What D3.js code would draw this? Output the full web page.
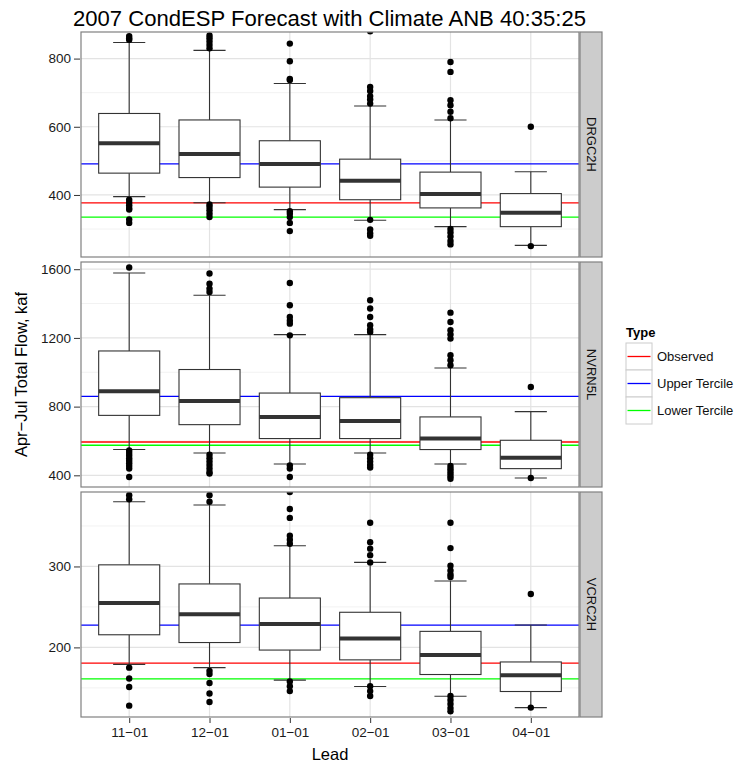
<!DOCTYPE html>
<html><head><meta charset="utf-8">
<script src="https://cdn.jsdelivr.net/npm/d3@7"></script>
<style>body{margin:0;background:#fff;} svg{display:block;font-family:"Liberation Sans",Arial,sans-serif;}</style>
</head><body><svg id="c" width="748" height="764"></svg>
<script>
const leads = ["11\u221201","12\u221201","01\u221201","02\u221201","03\u221201","04\u221201"];
const stations = ["DRGC2H","NVRN5L","VCRC2H"];

// [lower whisker, Q1, median, Q3, upper whisker] per lead
const drgcStats = [[395,464,552,639,847],[377,451,520,620,824],[357,423,491,559,727],[326,386,442,505,661],[307,362,403,467,620],[252,307,348,404,468]];
const nvrnStats = [[550,749,889,1124,1578],[530,695,833,1016,1448],[466,614,740,879,1219],[530,614,716,852,1219],[466,550,614,740,1025],[384,439,503,604,771]];
const vcrcStats = [[179,215.6,255,302,380],[175,206,241,278.4,376],[159.5,196.7,229,261,325.5],[151.7,184.6,211,243.4,305],[139.6,166.5,190.5,219.8,282],[125.6,145.5,165.7,182,227.6]];

const drgcOutliers = [[855,860,866,386,378,370,362,357,328,318],[830,840,850,860,868,372,365,355,345,335],[844,792,740,737,352,345,335,318,294],[880,717,705,690,680,668,327,299,288,280],[790,761,678,663,644,625,300,290,278,265,255],[600,250]];
const nvrnOutliers = [[1610,545,530,515,500,485,470,455,440,390],[1575,1516,1487,1467,520,500,480,460,440,420,410],[1520,1390,1322,1300,1283,1215,458,440,390],[1660,1419,1371,1322,1274,1250,1235,520,500,480,460,445],[1347,1293,1245,1220,1196,1099,1070,1041,455,440,425,410,395,380],[914,384]];
const vcrcOutliers = [[395,388,383,175,161.6,151,128],[395,388,380,171,167,156,143,132.6],[392,371,360,338,333,328,158,152,146],[354,330,322,314,305,152,146,140],[354,322.7,301,295,290,287,140,135,130,125,121],[266,125.6]];

const observed = [377, 594, 180.5];
const upperTercile = [491, 860, 227.6];
const lowerTercile = [335, 575, 161];

const yDomains = [[218,878],[332,1642],[114,392]];
const majorTicks = [[400,600,800],[400,800,1200,1600],[200,300]];
const minorTicks = [[300,500,700],[600,1000,1400],[150,250,350]];

const typeNames = ["Observed","Upper Tercile","Lower Tercile"];
const typeColors = ["#ff0000","#0000ff","#00ff00"];

const statsAll = [drgcStats, nvrnStats, vcrcStats];
const outAll = [drgcOutliers, nvrnOutliers, vcrcOutliers];
const linesAll = [observed, upperTercile, lowerTercile];

const svg = d3.select("#c");
const L = 81, R = 579, stripW = 23;
const tops = [32, 262, 492], PH = 225;

const x = d3.scalePoint().domain(leads).range([L, R]).padding(0.6);
const step = x.step();
const boxW = step * 0.76, capW = step * 0.4;

// title
svg.append("text").attr("x", 73).attr("y", 26).attr("text-anchor","start")
  .attr("font-size", 22).attr("textLength", 513).attr("lengthAdjust","spacingAndGlyphs")
  .attr("fill","#000").text("2007 CondESP Forecast with Climate ANB 40:35:25");

const defs = svg.append("defs");

stations.forEach((st, i) => {
  const top = tops[i], bot = top + PH;
  const y = d3.scaleLinear().domain(yDomains[i]).range([bot, top]);
  const g = svg.append("g");
  defs.append("clipPath").attr("id","clip"+i).append("rect")
    .attr("x", L).attr("y", top).attr("width", R-L).attr("height", PH);
  g.append("rect").attr("x",L).attr("y",top).attr("width",R-L).attr("height",PH).attr("fill","#fff");
  g.selectAll(".mn").data(minorTicks[i]).join("line")
    .attr("x1",L).attr("x2",R).attr("y1",d=>y(d)).attr("y2",d=>y(d))
    .attr("stroke","#f2f2f2").attr("stroke-width",1);
  g.selectAll(".mj").data(majorTicks[i]).join("line")
    .attr("x1",L).attr("x2",R).attr("y1",d=>y(d)).attr("y2",d=>y(d))
    .attr("stroke","#e3e3e3").attr("stroke-width",1.2);
  g.selectAll(".vx").data(leads).join("line")
    .attr("x1",d=>x(d)).attr("x2",d=>x(d)).attr("y1",top).attr("y2",bot)
    .attr("stroke","#e3e3e3").attr("stroke-width",1.2);

  const pg = g.append("g").attr("clip-path","url(#clip"+i+")");
  linesAll.forEach((arr, k) => {
    pg.append("line").attr("x1",L).attr("x2",R).attr("y1",y(arr[i])).attr("y2",y(arr[i]))
      .attr("stroke", typeColors[k]).attr("stroke-width",1.3);
  });
  const stats = statsAll[i];
  leads.forEach((ld, j) => {
    const s = stats[j], cx = x(ld);
    const bg = pg.append("g");
    bg.append("line").attr("x1",cx).attr("x2",cx).attr("y1",y(s[4])).attr("y2",y(s[3])).attr("stroke","#333").attr("stroke-width",1.1);
    bg.append("line").attr("x1",cx).attr("x2",cx).attr("y1",y(s[1])).attr("y2",y(s[0])).attr("stroke","#333").attr("stroke-width",1.1);
    bg.append("line").attr("x1",cx-capW/2).attr("x2",cx+capW/2).attr("y1",y(s[4])).attr("y2",y(s[4])).attr("stroke","#333").attr("stroke-width",1.1);
    bg.append("line").attr("x1",cx-capW/2).attr("x2",cx+capW/2).attr("y1",y(s[0])).attr("y2",y(s[0])).attr("stroke","#333").attr("stroke-width",1.1);
    bg.append("rect").attr("x",cx-boxW/2).attr("y",y(s[3])).attr("width",boxW).attr("height",y(s[1])-y(s[3]))
      .attr("fill","#fff").attr("stroke","#333").attr("stroke-width",1.1);
    bg.append("line").attr("x1",cx-boxW/2).attr("x2",cx+boxW/2).attr("y1",y(s[2])).attr("y2",y(s[2])).attr("stroke","#333").attr("stroke-width",4);
    bg.selectAll("circle").data(outAll[i][j]).join("circle")
      .attr("cx",cx).attr("cy",d=>y(d)).attr("r",3.2).attr("fill","#000");
  });
  g.append("rect").attr("x",L).attr("y",top).attr("width",R-L).attr("height",PH)
    .attr("fill","none").attr("stroke","#808080").attr("stroke-width",1.2);
  g.append("rect").attr("x",R+1).attr("y",top).attr("width",stripW-1).attr("height",PH)
    .attr("fill","#cccccc").attr("stroke","#808080").attr("stroke-width",1.2);
  g.append("text").attr("transform",`translate(${R+stripW/2-4},${top+PH/2}) rotate(90)`)
    .attr("text-anchor","middle").attr("font-size",13).attr("fill","#111").text(st);
  const ya = d3.axisLeft(y).tickValues(majorTicks[i]).tickFormat(d3.format("d")).tickSize(6).tickPadding(3);
  const ag = g.append("g").attr("transform",`translate(${L-1},0)`).call(ya);
  ag.select(".domain").remove();
  ag.selectAll("line").attr("stroke","#333");
  ag.selectAll("text").attr("font-size",13.5).attr("fill","#1a1a1a").attr("font-family","Liberation Sans, Arial, sans-serif");
});

const xa = d3.axisBottom(x).tickSize(5).tickPadding(4);
const xg = svg.append("g").attr("transform",`translate(0,${tops[2]+PH+1})`).call(xa);
xg.select(".domain").remove();
xg.selectAll("line").attr("stroke","#333");
xg.selectAll("text").attr("font-size",13.5).attr("fill","#1a1a1a").attr("font-family","Liberation Sans, Arial, sans-serif");

svg.append("text").attr("x",(L+R)/2).attr("y",760).attr("text-anchor","middle").attr("font-size",16.5).text("Lead");
svg.append("text").attr("transform",`translate(27,${(tops[0]+tops[2]+PH)/2}) rotate(-90)`)
  .attr("text-anchor","middle").attr("font-size",16.5).text("Apr\u2212Jul Total Flow, kaf");

const lg = svg.append("g");
lg.append("text").attr("x",626).attr("y",337).attr("font-size",13).attr("font-weight","bold").text("Type");
typeNames.forEach((n, k) => {
  const ky = 343 + k*27;
  lg.append("rect").attr("x",626).attr("y",ky).attr("width",26).attr("height",27)
    .attr("fill","#fff").attr("stroke","#cccccc").attr("stroke-width",1);
  lg.append("line").attr("x1",627.5).attr("x2",650.5).attr("y1",ky+13.5).attr("y2",ky+13.5)
    .attr("stroke",typeColors[k]).attr("stroke-width",1.3);
  lg.append("text").attr("x",657).attr("y",ky+18).attr("font-size",13).attr("fill","#111").text(n);
});
</script></body></html>
